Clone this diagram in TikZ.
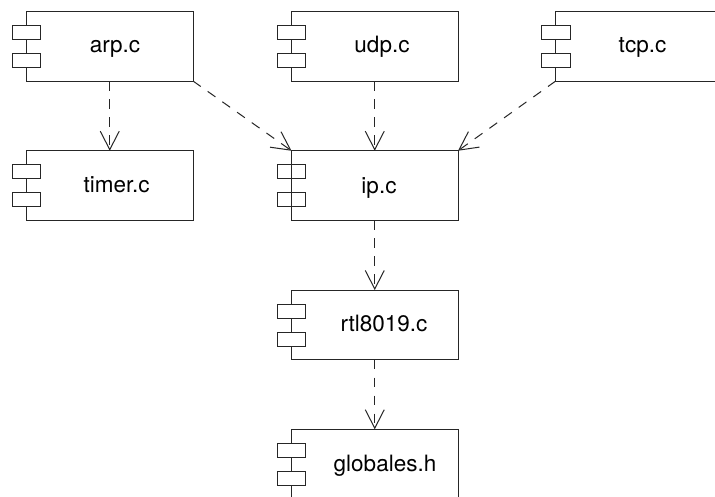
\documentclass[tikz,border=0pt]{standalone}
\usepackage{fontspec}
\setmainfont{TeX Gyre Heros}
\usetikzlibrary{arrows.meta,calc}
\tikzset{
  compbox/.style={draw=black!85,line width=1pt,fill=white,minimum width=166.5pt,minimum height=69.5pt,inner sep=0pt,outer sep=0pt},
  comptab/.style={draw=black!85,line width=1pt,fill=white,minimum width=28.5pt,minimum height=14pt,inner sep=0pt,outer sep=0pt},
  seethrough/.style={fill=none},
  complabel/.style={font=\fontsize{22.5}{26}\selectfont,inner sep=0pt,text=black,anchor=base},
  dep/.style={draw=black!85,line width=1pt,dash pattern=on 9.5pt off 8.5pt,-{Straight Barb[length=18.5pt,width=19pt,line width=1pt]}}
}
\newcommand{\component}[7][]{% tab options, id, cx, cy, label x, label baseline y, text
  \node[compbox] (#2) at (#3,#4) {};
  \node[comptab,#1] (#2t1) at ($(#2.north west)+(0,21)$) {};
  \node[comptab,#1] (#2t2) at ($(#2.north west)+(0,49)$) {};
  \node[complabel] (#2l) at (#5,#6) {#7};
}
\begin{document}
\begin{tikzpicture}[x=1pt,y=-1pt]
\useasboundingbox (0,0) rectangle (715,496);
\fill[white] (0,0) rectangle (715,496);
\clip (0,0) rectangle (715,496);
\component{arp}{109.75}{46.25}{115}{52.3}{arp.c}
\component{udp}{374.75}{46.25}{382}{52.3}{udp.c}
\component{tcp}{639}{46.25}{642.5}{52.3}{tcp.c}
\component{timer}{109.75}{185.5}{116.7}{192.8}{timer.c}
\component[seethrough]{ip}{374.75}{185.5}{379}{193}{ip.c}
\component{rtl}{374.75}{324.75}{384}{331.8}{rtl8019.c}
\component{globales}{374.75}{464}{385}{471.7}{globales.h}
\draw[dep] (arp.south) -- (timer.north);
\draw[dep] (arp.south east) -- (ip.north west);
\draw[dep] (udp.south) -- (ip.north);
\draw[dep] (tcp.south west) -- (ip.north east);
\draw[dep] (ip.south) -- (rtl.north);
\draw[dep] (rtl.south) -- (globales.north);
\end{tikzpicture}
\end{document}
